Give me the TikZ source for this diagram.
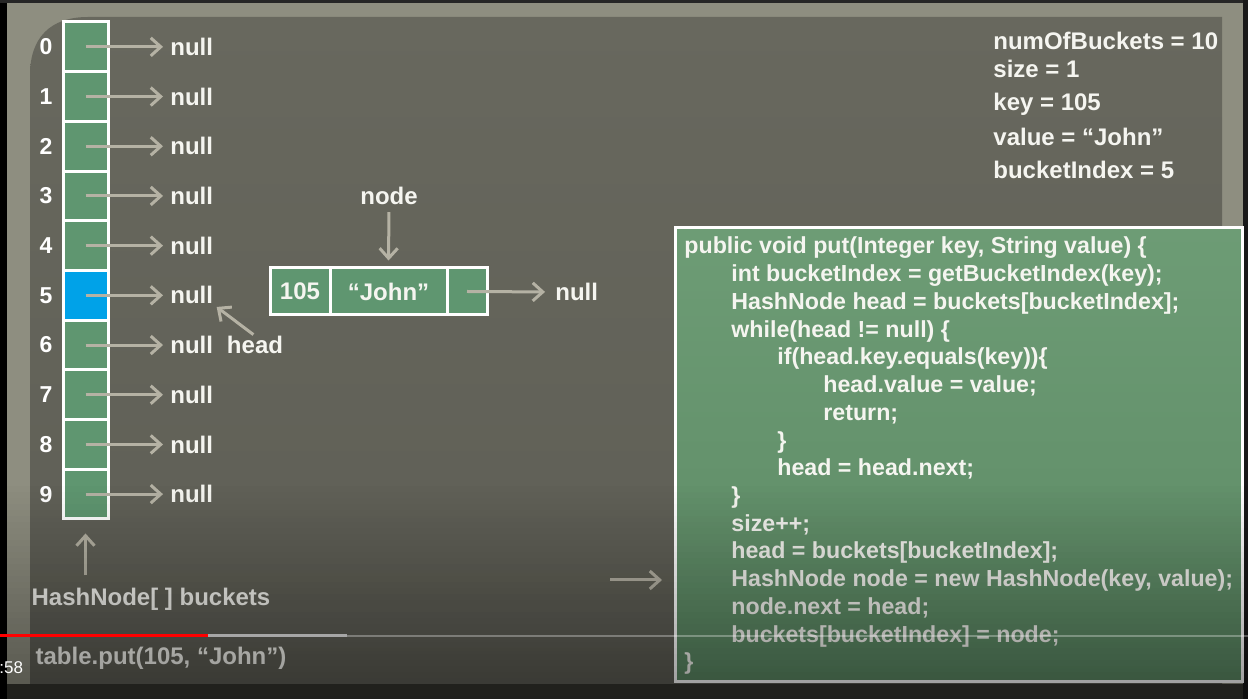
\documentclass[tikz,border=0pt]{standalone}
\usepackage{fontspec}
\setmainfont{Liberation Sans}
\usetikzlibrary{arrows.meta}
\definecolor{frameC}{HTML}{8E8E80}
\definecolor{panelTop}{HTML}{68685E}
\definecolor{panelBot}{HTML}{5E5E55}
\definecolor{cellG}{HTML}{5F9670}
\definecolor{blueC}{HTML}{00A2E8}
\definecolor{arrC}{HTML}{B5B2A4}
\definecolor{txt}{HTML}{F5F5F0}
\definecolor{codeTop}{HTML}{6D9C75}
\definecolor{codeBot}{HTML}{5D8A65}
\definecolor{bandC}{HTML}{35352F}
\begin{document}
\begin{tikzpicture}[x=0.5pt,y=-0.5pt,
  lbl/.style={font=\fontsize{12pt}{14pt}\selectfont\bfseries, text=txt, inner sep=0pt},
  codeln/.style={font=\fontsize{11.6pt}{13pt}\selectfont\bfseries, text=txt, inner sep=0pt, anchor=base west},
  idx/.style={font=\fontsize{11.5pt}{13pt}\selectfont\bfseries, text=white, inner sep=0pt},
  cell/.style={draw=white, line width=1.5pt, fill=cellG, minimum width=22.5pt, minimum height=24.85pt, inner sep=0pt},
  arr/.style={draw=arrC, line width=1.5pt, -{Straight Barb[length=5pt,width=9pt]}}
]
\useasboundingbox (0,0) rectangle (1248,699);
% frame and panel
\fill[frameC] (0,0) rectangle (1248,699);
\fill[black] (0,0) rectangle (7,699);
\fill[black!85] (0,0) rectangle (1248,3);
\fill[black!90] (1243,0) rectangle (1248,699);
\fill[bandC] (7,684) rectangle (1243,699);
\shade[top color=panelTop, bottom color=panelBot]
  (30,684) -- (30,75) .. controls (30,38) and (50,17) .. (88,17) -- (1222,17) -- (1222,684) -- cycle;
% buckets
\foreach \i/\c in {0/cellG,1/cellG,2/cellG,3/cellG,4/cellG,5/blueC,6/cellG,7/cellG,8/cellG,9/cellG} {
  \pgfmathsetmacro\yy{46.85+49.7*\i}
  \node[cell, fill=\c] (b\i) at (85.5,\yy) {};
  \node[idx] (i\i) at (46,\yy) {\i};
  \node[lbl, anchor=west] (n\i) at (170,\yy) {null};
}
\foreach \i in {0,...,9} {
  \draw[arr, shorten >=3.5pt] (b\i.center) -- (n\i.west);
}
% head
\node[lbl] (head) at (255,345) {head};
\draw[arr, shorten <=1pt, shorten >=2pt] (head.north) -- (n5.south east);
% new node
\node[cell, minimum width=30pt, minimum height=23.5pt, font=\fontsize{12pt}{14pt}\selectfont\bfseries, text=txt] (k) at (300,291.5) {105};
\node[cell, minimum width=58.5pt, minimum height=23.5pt, font=\fontsize{12pt}{14pt}\selectfont\bfseries, text=txt] (v) at (388.5,291.5) {“John”};
\node[cell, minimum width=20pt, minimum height=23.5pt] (p) at (467,291.5) {};
\node[lbl, anchor=west] (nN) at (555,292) {null};
\draw[arr, shorten >=5pt] (p.center) -- (nN.west);
\node[lbl] (nd) at (389,196) {node};
\draw[arr, shorten <=3.5pt, shorten >=3pt] (nd.south) -- (v.north);
% variables
\node[lbl, anchor=base west] (t1) at (993,50) {numOfBuckets = 10};
\node[lbl, anchor=base west] (t2) at (993,78) {size = 1};
\node[lbl, anchor=base west] (t3) at (993,111) {key = 105};
\node[lbl, anchor=base west] (t4) at (993,146) {value = “John”};
\node[lbl, anchor=base west] (t5) at (993,179) {bucketIndex = 5};
% labels bottom left
\node[lbl] (hb) at (151,599) {HashNode[ ] buckets};
\draw[arr, shorten <=6pt, shorten >=6.5pt] (hb.north -| b9.center) -- (b9.south);
\node[lbl] (tp) at (161,658) {table.put(105, “John”)};
% code box
\node[draw=white, line width=1.5pt, top color=codeTop, bottom color=codeBot, minimum width=283.5pt, minimum height=227pt, inner sep=0pt] (code) at (958.5,454.5) {};
\node[codeln] (c0) at (684,254) {public void put(Integer key, String value) \{};
\node[codeln] (c1) at (731,281.7) {int bucketIndex = getBucketIndex(key);};
\node[codeln] (c2) at (731,309.5) {HashNode head = buckets[bucketIndex];};
\node[codeln] (c3) at (731,337.2) {while(head != null) \{};
\node[codeln] (c4) at (777,364.9) {if(head.key.equals(key))\{};
\node[codeln] (c5) at (823,392.7) {head.value = value;};
\node[codeln] (c6) at (823,420.4) {return;};
\node[codeln] (c7) at (777,448.1) {\}};
\node[codeln] (c8) at (777,475.8) {head = head.next;};
\node[codeln] (c9) at (731,503.6) {\}};
\node[codeln] (c10) at (731,531.3) {size++;};
\node[codeln] (c11) at (731,559) {head = buckets[bucketIndex];};
\node[codeln] (c12) at (731,586.8) {HashNode node = new HashNode(key, value);};
\node[codeln] (c13) at (731,614.5) {node.next = head;};
\node[codeln] (c14) at (731,642.2) {buckets[bucketIndex] = node;};
\node[codeln] (c15) at (684,670) {\}};
\coordinate (ptr) at (610,580);
\draw[arr, shorten >=5.75pt] (ptr) -- (ptr -| code.west);
% bottom dimming
\foreach \k in {0,...,36} {
  \pgfmathsetmacro\op{0.4*\k/36}
  \fill[black, opacity=\op] (0,{480+\k*6}) rectangle (1248,{486+\k*6});
}
% player bar
\draw[white, opacity=0.3, line width=1pt] (347,636) -- (1248,636);
\draw[black!35, line width=1.5pt] (208,636) -- (347,636);
\draw[red, line width=1.5pt] (0,636) -- (208,636);
\node[anchor=west, inner sep=0pt, text=white, font=\fontsize{8.5pt}{10pt}\selectfont] (tm) at (-1,668) {:58};
\end{tikzpicture}
\end{document}
